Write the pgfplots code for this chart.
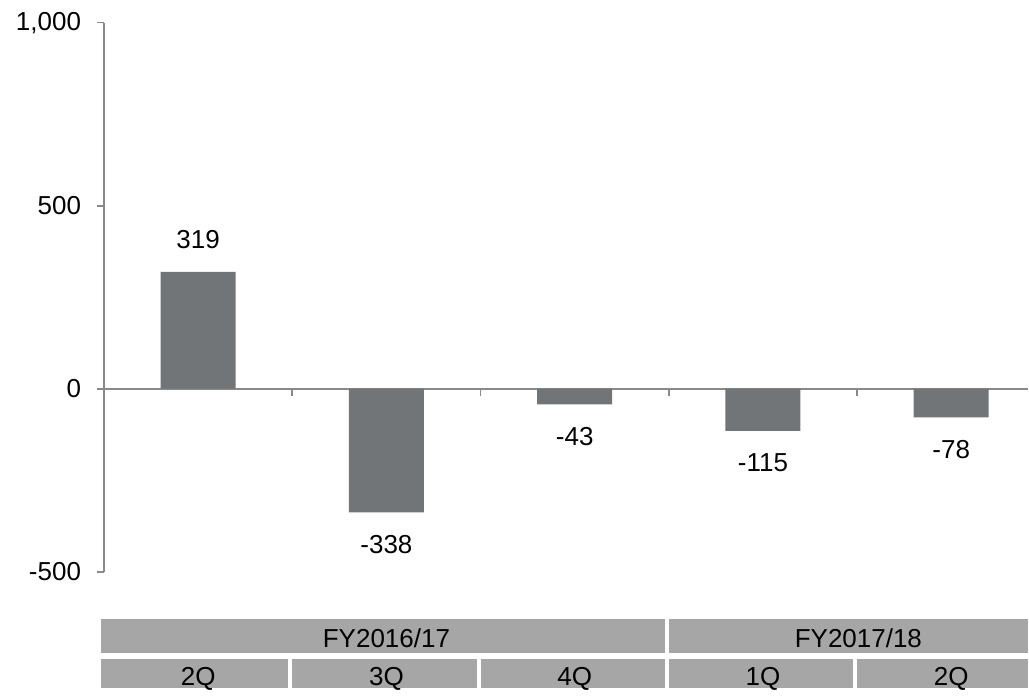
\documentclass[border=0pt]{standalone}
\usepackage{fontspec}
\setmainfont{Liberation Sans}
\usepackage{pgfplots}
\pgfplotsset{compat=1.18}
\definecolor{bargray}{RGB}{114,117,120}
\definecolor{cellgray}{RGB}{166,166,166}
\definecolor{axisgray}{RGB}{137,137,137}
\newcommand\cf{\fontsize{13pt}{15.6pt}\selectfont}

\begin{document}
\begin{tikzpicture}
\begin{axis}[
  scale only axis,
  width=462.4pt, height=274.7pt,
  xmin=-0.5, xmax=4.409,
  ymin=-500, ymax=1000,
  axis x line*=middle, axis y line*=left,
  axis line style={axisgray, line width=0.8pt},
  ytick={-500,0,500,1000},
  yticklabels={-500,0,500,{1,000}},
  xtick={0.5,1.5,2.5,3.5},
  xticklabels={},
  tick align=outside,
  major tick length=3.5pt,
  tick style={axisgray, line width=0.8pt},
  hide obscured x ticks=false,
  hide obscured y ticks=false,
  yticklabel style={font=\cf, xshift=-4.5pt},
  ybar, bar width=37.5pt,
  clip=false,
  nodes near coords,
  /pgf/number format/assume math mode=true,
  every node near coord/.append style={font=\cf, inner ysep=11.35pt, black},
]
\addplot[fill=bargray, draw=none] coordinates {(0,319) (1,-338) (2,-43) (3,-115) (4,-78)};

% period table under the chart
\fill[cellgray] (axis cs:-0.516,-627.9) rectangle (axis cs:2.4794,-723.4);
\fill[cellgray] (axis cs:2.5006,-627.9) rectangle (axis cs:4.409,-723.4);
\fill[cellgray] (axis cs:-0.516,-737.1) rectangle (axis cs:0.4794,-819);
\fill[cellgray] (axis cs:0.5006,-737.1) rectangle (axis cs:1.4794,-819);
\fill[cellgray] (axis cs:1.5006,-737.1) rectangle (axis cs:2.4794,-819);
\fill[cellgray] (axis cs:2.5006,-737.1) rectangle (axis cs:3.4794,-819);
\fill[cellgray] (axis cs:3.5006,-737.1) rectangle (axis cs:4.409,-819);
\node[font=\cf, anchor=base] at (axis cs:1.0,-708) {FY2016/17};
\node[font=\cf, anchor=base] at (axis cs:3.507,-708) {FY2017/18};
\node[font=\cf, anchor=base] at (axis cs:0,-811.4) {2Q};
\node[font=\cf, anchor=base] at (axis cs:1,-811.4) {3Q};
\node[font=\cf, anchor=base] at (axis cs:2,-811.4) {4Q};
\node[font=\cf, anchor=base] at (axis cs:3,-811.4) {1Q};
\node[font=\cf, anchor=base] at (axis cs:4,-811.4) {2Q};
\path (axis cs:-1.0526,1062) (axis cs:4.409,-819);
\end{axis}
\end{tikzpicture}
\end{document}
